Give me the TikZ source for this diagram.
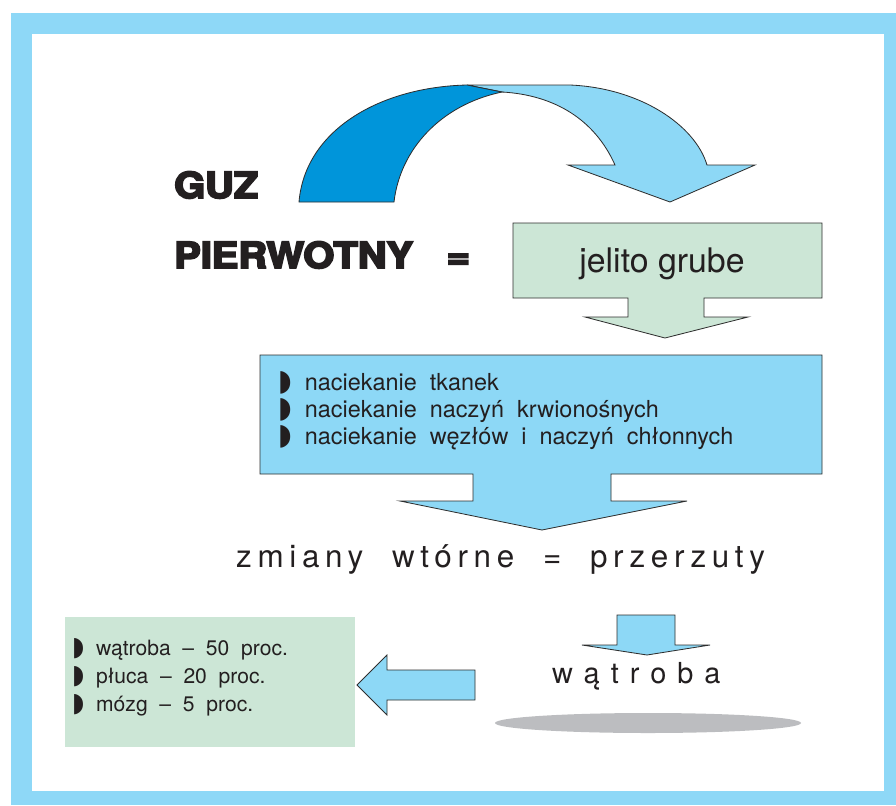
\documentclass[tikz,border=0pt]{standalone}
\usepackage{fontspec}
\usepackage{graphicx}
\setmainfont{TeX Gyre Heros}
\newfontfamily\heavyfont{texgyreheros-bold.otf}[FakeBold=5]
\newfontfamily\listfont{TeX Gyre Heros}[WordSpace=2]
\newfontfamily\symfont{DejaVu Sans}
\newcommand{\halfdot}{{\symfont\scalebox{1.1}[1.25]{◗}}}
\usetikzlibrary{positioning}
\definecolor{Frame}{HTML}{8ED8F7}
\definecolor{DeepBlue}{HTML}{0095DA}
\definecolor{SkyBlue}{HTML}{8DD8F6}
\definecolor{Mint}{HTML}{CCE6D6}
\definecolor{Shadow}{HTML}{BCBDC0}
\definecolor{Edge}{HTML}{2E2E2E}
\definecolor{Ink}{HTML}{231F20}

\begin{document}
\begin{tikzpicture}[
  x=0.03cm, y=-0.03cm,
  every node/.style={text=Ink, inner sep=0pt},
  block/.style={
    draw=Edge,
    line width=0.7pt,
    line join=miter
  },
  heading/.style={
    font=\heavyfont\fontsize{30.6}{30.6}\selectfont,
    anchor=base west
  },
  boxtext/.style={
    font=\fontsize{28.9}{30}\selectfont,
    anchor=base
  },
  item/.style={
    font=\listfont\fontsize{20}{23}\selectfont,
    anchor=base west
  },
  smallitem/.style={
    font=\listfont\fontsize{18}{23}\selectfont,
    anchor=base west
  },
  spaced/.style={
    font=\listfont\fontsize{26.8}{28}\selectfont\addfontfeature{LetterSpace=18},
    anchor=base west
  },
  widespaced/.style={
    font=\fontsize{24.7}{26}\selectfont\addfontfeature{LetterSpace=38},
    anchor=base west
  }
]

\useasboundingbox (0,0) rectangle (896,805);
\fill[Frame] (11,13) rectangle (896,805);
\fill[white] (32,34) rectangle (884,791);

% curved arrow
\path[block, fill=SkyBlue]
  (467,85) -- (570,85) .. controls (640,88) and (695,125) .. (707,165)
  -- (755,165) -- (670,202) -- (568,165) -- (615,165)
  .. controls (595,120) and (555,95) .. (502,92) -- cycle;
\path[block, fill=DeepBlue]
  (299,202) .. controls (305,130) and (380,87) .. (467,85)
  -- (502,92) .. controls (440,105) and (400,150) .. (394,202) -- cycle;

\node[heading] (guz) at (174,198) {\scalebox{1.11}[1]{GUZ}};
\node[heading] (pierwotny) at (174,268)
  {\scalebox{1.11}[1]{PIERWOTNY\hspace{0.85em}=}};

% jelito grube
\path[block, fill=Mint]
  (513,223) -- (822,223) -- (822,298) -- (704,298) -- (704,317)
  -- (748,317) -- (665,338) -- (585,317) -- (628,317) -- (628,298)
  -- (513,298) -- cycle;
\node[boxtext] (jelito) at (662,272) {jelito grube};

% naciekanie
\path[block, fill=SkyBlue]
  (260,355) -- (822,355) -- (822,474) -- (611,474) -- (611,501)
  -- (687,501) -- (542,530) -- (400,501) -- (473,501) -- (473,474)
  -- (260,474) -- cycle;
\node[item] (n1) at (278,390) {\halfdot\ naciekanie tkanek};
\node[item] (n2) at (278,417) {\halfdot\ naciekanie naczyń krwionośnych};
\node[item] (n3) at (278,444)
  {\halfdot\ naciekanie węzłów i naczyń chłonnych};

\node[spaced] (zmiany) at (236,567) {zmiany wtórne = przerzuty};

% watroba
\path[block, fill=SkyBlue]
  (617,615) -- (675,615) -- (675,645) -- (710,645) -- (647,655)
  -- (582,645) -- (617,645) -- cycle;
\node[widespaced] (watroba) at (552,683) {wątroba};
\fill[Shadow] (648,723) ellipse [x radius=153, y radius=10];

\path[block, fill=SkyBlue]
  (475,670) -- (387,670) -- (387,655) -- (357,685) -- (387,715)
  -- (387,700) -- (475,700) -- cycle;

% przerzuty
\fill[Mint] (65,617) rectangle (355,747);
\node[smallitem] (p1) at (72,655) {\halfdot\ wątroba – 50 proc.};
\node[smallitem] (p2) at (72,683) {\halfdot\ płuca – 20 proc.};
\node[smallitem] (p3) at (72,711) {\halfdot\ mózg – 5 proc.};

\end{tikzpicture}
\end{document}
